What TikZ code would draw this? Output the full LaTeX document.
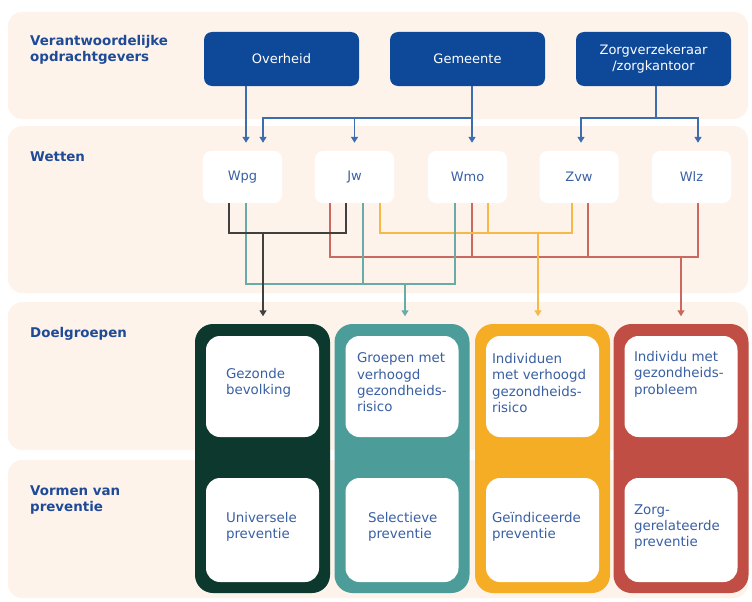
\documentclass[tikz,border=0pt]{standalone}
\usepackage{fontspec}
\setmainfont{DejaVu Sans}
\usetikzlibrary{arrows.meta,positioning}
\definecolor{bandpeach}{RGB}{253,243,235}
\definecolor{navy}{RGB}{14,72,152}
\definecolor{headblue}{RGB}{30,74,150}
\definecolor{txtblue}{RGB}{58,96,164}
\definecolor{pine}{RGB}{12,56,46}
\definecolor{tealcol}{RGB}{76,157,153}
\definecolor{ambercol}{RGB}{245,173,38}
\definecolor{brickcol}{RGB}{192,78,68}
\tikzset{every node/.style={font=\fontsize{13}{16.3}\selectfont, inner sep=0pt}}
\tikzset{band/.style={fill=bandpeach, rounded corners=14pt}}
\tikzset{heading/.style={anchor=west, align=left, text=headblue,
    font=\bfseries\fontsize{13.4}{16}\selectfont}}
\tikzset{party/.style={shape=rectangle, rounded corners=8pt, fill=navy,
    text=white, align=center, minimum width=155pt, minimum height=54pt}}
\tikzset{law/.style={shape=rectangle, rounded corners=8pt, fill=white,
    text=txtblue, minimum width=79pt, minimum height=52pt}}
\tikzset{colbox/.style={shape=rectangle, rounded corners=18pt,
    minimum width=135pt, minimum height=269pt}}
\tikzset{topcell/.style={shape=rectangle, rounded corners=14pt, fill=white,
    minimum width=113pt, minimum height=101pt}}
\tikzset{lowcell/.style={topcell, minimum height=104pt}}
\tikzset{celltext/.style={anchor=west, align=left, text=txtblue,
    font=\fontsize{13.4}{16.3}\selectfont}}
\tikzset{downtip/.style={-{Triangle[width=7pt,length=6pt]}, shorten >=7.5pt}}
\tikzset{blueline/.style={draw=navy!80!white, line width=1.6pt}}
\tikzset{darkline/.style={draw=black!75, line width=1.4pt}}
\tikzset{tealline/.style={draw=tealcol!85!white, line width=1.4pt}}
\tikzset{amberline/.style={draw=ambercol!85!white, line width=1.4pt}}
\tikzset{brickline/.style={draw=brickcol!85!white, line width=1.4pt}}

\begin{document}
\begin{tikzpicture}[x=1pt, y=-1pt]
    \useasboundingbox (0,0) rectangle (752,602);
    % bands
    \path[band] (8,12) rectangle (748,119);
    \path[band] (8,126) rectangle (748,293);
    \path[band] (8,302) rectangle (748,450);
    \path[band] (8,460) rectangle (748,598);
    \node[heading] (hopdr) at (30,50) {Verantwoordelijke\\opdrachtgevers};
    \node[heading] (hwet) at (30,157) {Wetten};
    \node[heading] (hdoel) at (30,334) {Doelgroepen};
    \node[heading] (hvorm) at (30,500) {Vormen van\\preventie};
    % opdrachtgevers
    \node[party] (ovh) at (281.5,59) {Overheid};
    \node[party] (gem) at (467.5,59) {Gemeente};
    \node[party] (zv) at (653.5,59) {Zorgverzekeraar\\/zorgkantoor};
    % wetten
    \node[law] (wpg) at (242.5,177) {Wpg};
    \node[law] (jw) at (354.5,177) {Jw};
    \node[law] (wmo) at (467.5,177) {Wmo};
    \node[law] (zvw) at (579,177) {Zvw};
    \node[law] (wlz) at (691.5,177) {Wlz};
    % kolommen
    \node[colbox, fill=pine] (c1) at (262.5,458.5) {};
    \node[colbox, fill=tealcol] (c2) at (402,458.5) {};
    \node[colbox, fill=ambercol] (c3) at (542.5,458.5) {};
    \node[colbox, fill=brickcol] (c4) at (681,458.5) {};
    \foreach \i/\x in {1/262.5, 2/402, 3/542.5, 4/681} {
      \node[topcell] (d\i) at (\x,386.5) {};
      \node[lowcell] (v\i) at (\x,530) {};
    }
    \node[celltext] (td1) at ([xshift=20pt, yshift=3.5pt]d1.west) {Gezonde\\bevolking};
    \node[celltext] (td2) at ([xshift=11.5pt, yshift=4pt]d2.west)
      {Groepen met\\verhoogd\\gezondheids-\\risico};
    \node[celltext] (td3) at ([xshift=6pt, yshift=3.5pt]d3.west)
      {Individuen\\met verhoogd\\gezondheids-\\risico};
    \node[celltext] (td4) at ([xshift=9.5pt, yshift=12.5pt]d4.west)
      {Individu met\\gezondheids-\\probleem};
    \node[celltext] (tv1) at ([xshift=20pt, yshift=3pt]v1.west) {Universele\\preventie};
    \node[celltext] (tv2) at ([xshift=22.5pt, yshift=3pt]v2.west) {Selectieve\\preventie};
    \node[celltext] (tv3) at ([xshift=6pt, yshift=3pt]v3.west) {Geïndiceerde\\preventie};
    \node[celltext] (tv4) at ([xshift=9.5pt, yshift=3pt]v4.west)
      {Zorg-\\gerelateerde\\preventie};
    % opdrachtgevers -> wetten
    \coordinate (gbus) at (472,118);
    \coordinate (zbus) at (656,118);
    \draw[blueline, downtip, shorten >=8pt] ([xshift=-35.5pt]ovh.south) -- ([xshift=3.5pt]wpg.north);
    \draw[blueline] ([xshift=4.5pt]gem.south) -- (gbus);
    \draw[blueline, downtip, shorten >=8pt] (gbus) -- ([xshift=4.5pt]wmo.north);
    \draw[blueline, downtip, shorten >=8pt] (gbus) -| ([xshift=20.5pt]wpg.north);
    \draw[blueline, downtip, shorten >=8pt] (jw.north |- gbus) -- (jw.north);
    \draw[blueline] ([xshift=2.5pt]zv.south) -- (zbus);
    \draw[blueline, downtip, shorten >=8pt] (zbus) -| ([xshift=2pt]zvw.north);
    \draw[blueline, downtip, shorten >=8pt] (zbus) -| ([xshift=6.5pt]wlz.north);
    % wetten -> doelgroepen
    \coordinate (kbus) at (263,233);
    \coordinate (tbus) at (405,284);
    \coordinate (obus) at (538,233);
    \coordinate (rbus) at (681,257);
    \draw[brickline] ([xshift=-24.5pt]jw.south) |- (rbus) -| ([xshift=6.5pt]wlz.south);
    \draw[brickline] ([xshift=4.5pt]wmo.south) |- (rbus);
    \draw[brickline] ([xshift=9pt]zvw.south) |- (rbus);
    \draw[brickline, downtip] (rbus) -- (rbus |- c4.north);
    \draw[amberline] ([xshift=25.5pt]jw.south) |- (obus) -| ([xshift=-7pt]zvw.south);
    \draw[amberline] ([xshift=20.5pt]wmo.south) |- (obus);
    \draw[amberline, downtip] (obus) -- (obus |- c3.north);
    \draw[tealline] ([xshift=3.5pt]wpg.south) |- (tbus) -| ([xshift=-12.5pt]wmo.south);
    \draw[tealline] ([xshift=8.5pt]jw.south) |- (tbus);
    \draw[tealline, downtip] (tbus) -- (tbus |- c2.north);
    \draw[darkline] ([xshift=-13.5pt]wpg.south) |- (kbus) -| ([xshift=-8.5pt]jw.south);
    \draw[darkline, downtip] (kbus) -- (kbus |- c1.north);
\end{tikzpicture}
\end{document}
